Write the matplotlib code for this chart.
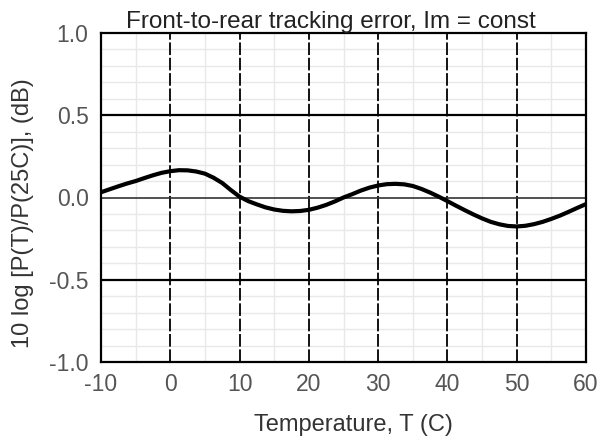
import numpy as np
import matplotlib
matplotlib.use("Agg")
import matplotlib.pyplot as plt

# values
temperature = [-10, -8.75, -7.5, -6.25, -5, -3.75, -2.5, -1.25, 0, 1.25, 2.5,
               3.75, 5, 6.25, 7.5, 8.75, 10, 11.25, 12.5, 13.75, 15, 16.25,
               17.5, 18.75, 20, 21.25, 22.5, 23.75, 25, 26.25, 27.5, 28.75, 30,
               31.25, 32.5, 33.75, 35, 36.25, 37.5, 38.75, 40, 41.25, 42.5,
               43.75, 45, 46.25, 47.5, 48.75, 50, 51.25, 52.5, 53.75, 55, 56.25,
               57.5, 58.75, 60]
error_db = [0.032, 0.05, 0.068, 0.085, 0.10, 0.118, 0.135, 0.15, 0.16, 0.166,
            0.165, 0.158, 0.145, 0.12, 0.088, 0.045, 0.005, -0.022, -0.042,
            -0.06, -0.073, -0.081, -0.084, -0.082, -0.075, -0.062, -0.045,
            -0.024, 0.0, 0.02, 0.042, 0.06, 0.073, 0.081, 0.083, 0.08, 0.07,
            0.052, 0.03, 0.005, -0.022, -0.05, -0.077, -0.103, -0.127, -0.148,
            -0.163, -0.173, -0.176, -0.172, -0.162, -0.148, -0.13, -0.11,
            -0.087, -0.063, -0.04]

x_ticks = [-10, 0, 10, 20, 30, 40, 50, 60]
y_ticks = [-1.0, -0.5, 0.0, 0.5, 1.0]
y_tick_labels = ["-1.0", "-0.5", "0.0", "0.5", "1.0"]

plt.rcParams["font.family"] = ["Liberation Sans", "DejaVu Sans"]
plt.rcParams["axes.unicode_minus"] = False

fig = plt.figure(figsize=(6.02, 4.41), dpi=100)
# plot area: x 101..586 px, y 33..362 px
ax = fig.add_axes([101 / 602, 1 - 362 / 441, 485 / 602, 329 / 441])

ax.set_xlim(-10, 60)
ax.set_ylim(-1.0, 1.0)

# light minor grid
ax.set_xticks(np.arange(-10, 61, 5), minor=True)
ax.set_yticks(np.arange(-1.0, 1.01, 0.1), minor=True)
ax.grid(which="minor", color="#e8e8e8", linewidth=1.0)
ax.tick_params(which="minor", length=0)

# major grid: dashed verticals, solid horizontals
for xv in x_ticks[1:-1]:
    ax.axvline(xv, color="black", linewidth=1.3, dashes=(7, 1.5), zorder=2)
for yv in [-0.5, 0.5]:
    ax.axhline(yv, color="black", linewidth=1.6, zorder=2)
ax.axhline(0.0, color="#333333", linewidth=1.2, zorder=2)

ax.plot(temperature, error_db, color="black", linewidth=3,
        solid_joinstyle="round", solid_capstyle="butt", zorder=3)

ax.set_xticks(x_ticks)
ax.set_yticks(y_ticks)
ax.set_yticklabels(y_tick_labels)
ax.tick_params(which="major", length=0, labelsize=16.5, colors="#555555")
ax.tick_params(axis="x", pad=8)
ax.tick_params(axis="y", pad=9)

for s in ax.spines.values():
    s.set_linewidth(1.6)
    s.set_color("black")

fig.text(353 / 602, 1 - 425 / 441, "Temperature, T (C)", fontsize=17,
         color="#333333", ha="center", va="center")
fig.text(23 / 602, 1 - 213 / 441, "10 log [P(T)/P(25C)], (dB)", fontsize=17,
         color="#333333", ha="center", va="center", rotation=90)
ax.set_title("Front-to-rear tracking error, Im = const", fontsize=17.5,
             color="#222222", x=(331 - 101) / 485, pad=1)

fig.savefig("out.png", dpi=100)
plt.close(fig)
